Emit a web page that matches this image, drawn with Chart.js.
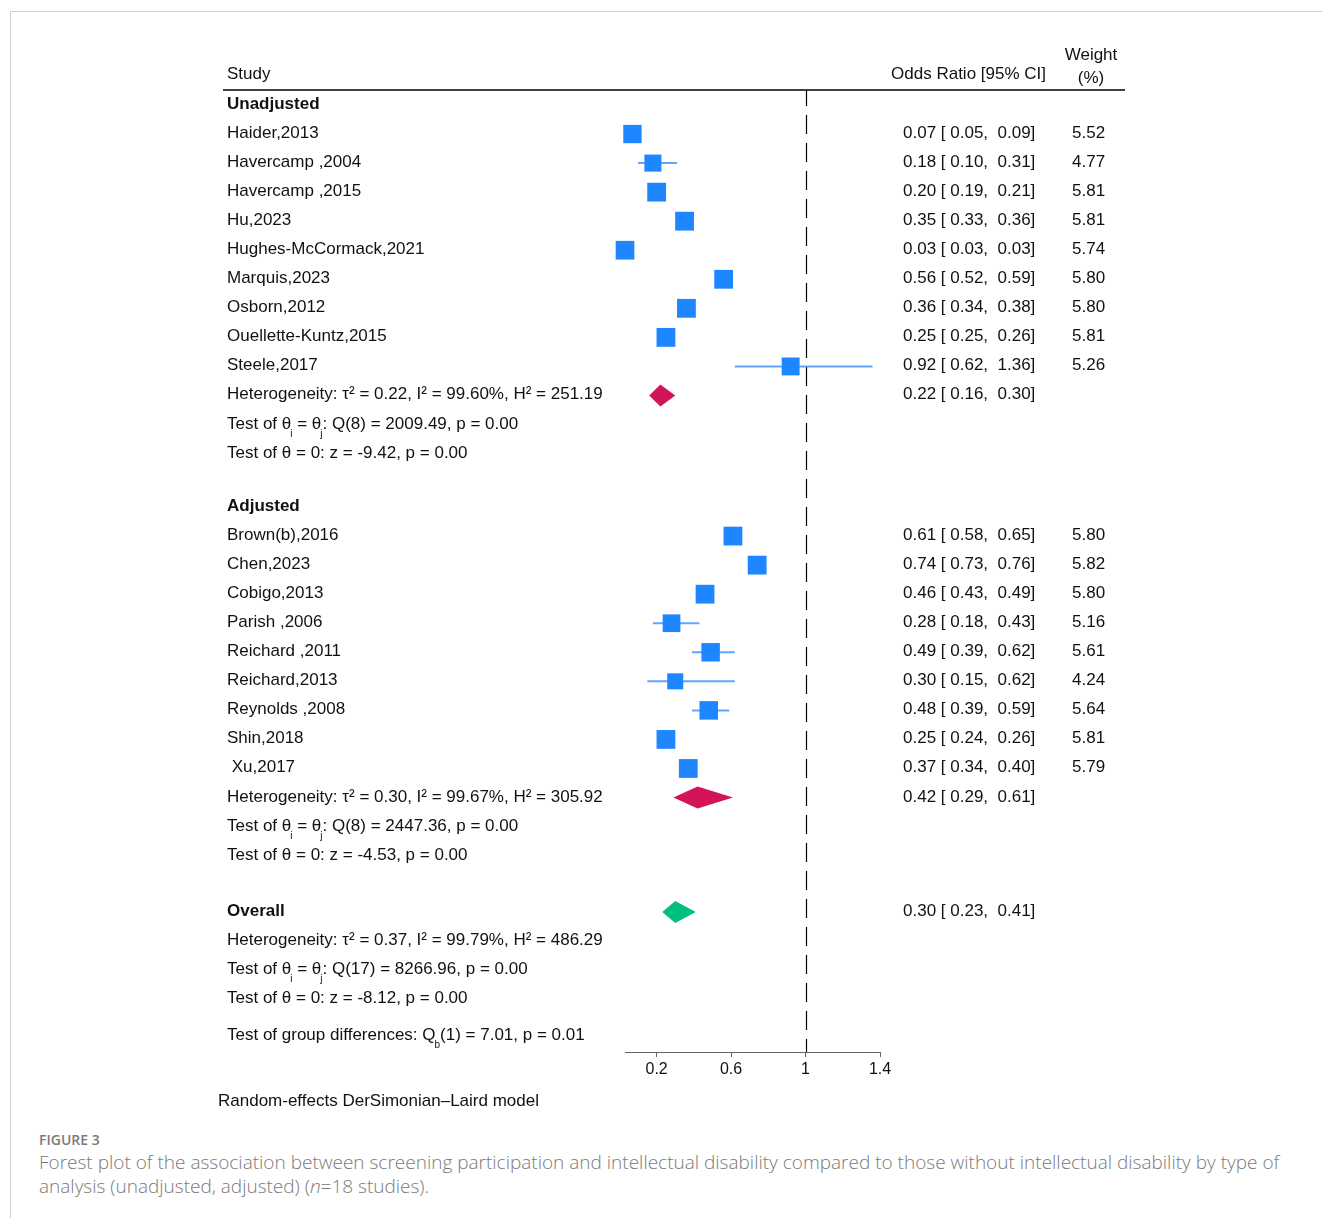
<!DOCTYPE html>
<html>
<head>
<meta charset="utf-8">
<script src="https://cdn.jsdelivr.net/npm/chart.js@4.4.1/dist/chart.umd.min.js"></script>
<style>
  html, body { margin: 0; padding: 0; background: #fff; }
  body { width: 1322px; height: 1218px; position: relative; overflow: hidden; }
  #frame { position: absolute; left: 10px; top: 11px; right: 0; bottom: 0;
           border-top: 1px solid #cfcfcf; border-left: 1px solid #cfcfcf; }
  #plot { position: absolute; left: 0; top: 0; }
  #figlabel { position: absolute; left: 39px; top: 1130px; font: 600 14px "Open Sans", sans-serif;
              color: #7a7a7a; letter-spacing: 0; }
  #caption { position: absolute; left: 39px; top: 1150px; width: 1255px; font: 300 19px/24px "Open Sans", sans-serif;
             color: #7a7a7a; }
</style>
</head>
<body>
<div id="frame"></div>
<canvas id="plot" width="1322" height="1120"></canvas>
<div id="figlabel">FIGURE 3</div>
<div id="caption">Forest plot of the association between screening participation and intellectual disability compared to those without intellectual disability by type of analysis (unadjusted, adjusted) (<i>n</i>=18 studies).</div>
<script>
// ---- Study-level data: odds ratios, 95% CI bounds, random-effects weights (%) ----
const unadjStudies = ['Haider,2013', 'Havercamp ,2004', 'Havercamp ,2015', 'Hu,2023', 'Hughes-McCormack,2021',
                      'Marquis,2023', 'Osborn,2012', 'Ouellette-Kuntz,2015', 'Steele,2017'];
const unadjOR     = [0.07, 0.18, 0.20, 0.35, 0.03, 0.56, 0.36, 0.25, 0.92];
const unadjLo     = [0.05, 0.10, 0.19, 0.33, 0.03, 0.52, 0.34, 0.25, 0.62];
const unadjHi     = [0.09, 0.31, 0.21, 0.36, 0.03, 0.59, 0.38, 0.26, 1.36];
const unadjWeight = [5.52, 4.77, 5.81, 5.81, 5.74, 5.80, 5.80, 5.81, 5.26];

const adjStudies = ['Brown(b),2016', 'Chen,2023', 'Cobigo,2013', 'Parish ,2006', 'Reichard ,2011',
                    'Reichard,2013', 'Reynolds ,2008', 'Shin,2018', ' Xu,2017'];
const adjOR     = [0.61, 0.74, 0.46, 0.28, 0.49, 0.30, 0.48, 0.25, 0.37];
const adjLo     = [0.58, 0.73, 0.43, 0.18, 0.39, 0.15, 0.39, 0.24, 0.34];
const adjHi     = [0.65, 0.76, 0.49, 0.43, 0.62, 0.62, 0.59, 0.26, 0.40];
const adjWeight = [5.80, 5.82, 5.80, 5.16, 5.61, 4.24, 5.64, 5.81, 5.79];

// ---- Pooled estimates: Unadjusted, Adjusted, Overall ----
const groupNames = ['Unadjusted', 'Adjusted', 'Overall'];
const pooledOR   = [0.22, 0.42, 0.30];
const pooledLo   = [0.16, 0.29, 0.23];
const pooledHi   = [0.30, 0.61, 0.41];

// ---- Heterogeneity statistics per group ----
const hetTau2 = ['0.22', '0.30', '0.37'];
const hetI2   = ['99.60%', '99.67%', '99.79%'];
const hetH2   = ['251.19', '305.92', '486.29'];
const qDf     = ['8', '8', '17'];
const qStat   = ['2009.49', '2447.36', '8266.96'];
const qP      = ['0.00', '0.00', '0.00'];
const zStat   = ['-9.42', '-4.53', '-8.12'];
const zP      = ['0.00', '0.00', '0.00'];
const groupDiffDf = '1', groupDiffQ = '7.01', groupDiffP = '0.01';

const xTicks = [0.2, 0.6, 1, 1.4];
const nullValue = 1;

// ---- Row layout (in row units, one unit per text line) ----
const rows = { studies: [], pooled: [], stats: [], headers: [] };
(function buildRows() {
  let r = 0;
  const groups = [[unadjStudies, unadjOR, unadjLo, unadjHi, unadjWeight],
                  [adjStudies, adjOR, adjLo, adjHi, adjWeight]];
  const gaps = [1.84, 1.94];
  groups.forEach((g, gi) => {
    rows.headers.push({ label: groupNames[gi], y: r });
    g[0].forEach((name, i) => {
      r += 1;
      rows.studies.push({ name, or: g[1][i], lo: g[2][i], hi: g[3][i], w: g[4][i], y: r });
    });
    r += 1;
    rows.pooled.push({ gi, y: r });
    rows.stats.push({ gi, y: [r, r + 1, r + 2] });
    r += 2 + gaps[gi];
  });
  rows.headers.push({ label: groupNames[2], y: r });
  rows.pooled.push({ gi: 2, y: r });
  rows.stats.push({ gi: 2, y: [r + 1, r + 2, r + 3] });
  rows.groupDiff = r + 3 + 1.27;
})();

const FONT = '17px "Liberation Sans", Arial, sans-serif';
const BOLD = 'bold 17px "Liberation Sans", Arial, sans-serif';
const SUB  = '10px "Liberation Sans", Arial, sans-serif';
const TXT  = '#111';
const fmt = v => v.toFixed(2);

// text with subscripts: parts = [[text, isSub], ...]
function drawRich(ctx, parts, x, y) {
  let cx = x;
  for (const [t, sub] of parts) {
    if (sub) {
      ctx.font = SUB;
      ctx.fillText(t, cx - 1, y + 8);
      cx += ctx.measureText(t).width - 1;
    } else {
      ctx.font = FONT;
      ctx.fillText(t, cx, y);
      cx += ctx.measureText(t).width;
    }
  }
}

const forestPlugin = {
  id: 'forest',
  beforeDatasetsDraw(chart) {
    const { ctx, scales: { x, y } } = chart;
    ctx.save();
    // null line
    const xn = Math.round(x.getPixelForValue(nullValue)) + 0.5;
    ctx.strokeStyle = '#000';
    ctx.lineWidth = 1.2;
    ctx.setLineDash([19, 9]);
    ctx.lineDashOffset = 3;
    ctx.beginPath();
    ctx.moveTo(xn, chart.chartArea.top);
    ctx.lineTo(xn, chart.chartArea.bottom);
    ctx.stroke();
    ctx.setLineDash([]);
    // confidence intervals
    ctx.strokeStyle = 'rgba(30,134,255,0.72)';
    ctx.lineWidth = 2;
    rows.studies.forEach(s => {
      const py = y.getPixelForValue(s.y);
      ctx.beginPath();
      ctx.moveTo(x.getPixelForValue(s.lo), py);
      ctx.lineTo(x.getPixelForValue(s.hi), py);
      ctx.stroke();
    });
    // pooled diamonds
    rows.pooled.forEach(p => {
      const py = y.getPixelForValue(p.y);
      ctx.fillStyle = p.gi === 2 ? '#00c07f' : '#d41459';
      ctx.beginPath();
      ctx.moveTo(x.getPixelForValue(pooledLo[p.gi]), py);
      ctx.lineTo(x.getPixelForValue(pooledOR[p.gi]), py - 11);
      ctx.lineTo(x.getPixelForValue(pooledHi[p.gi]), py);
      ctx.lineTo(x.getPixelForValue(pooledOR[p.gi]), py + 11);
      ctx.closePath();
      ctx.fill();
    });
    ctx.restore();
  },
  afterDraw(chart) {
    const { ctx, scales: { y } } = chart;
    const ty = v => y.getPixelForValue(v) + 4;  // text baseline for a row
    ctx.save();
    ctx.fillStyle = TXT;
    ctx.textBaseline = 'alphabetic';
    // header
    ctx.font = FONT;
    ctx.textAlign = 'left';
    ctx.fillText('Study', 227, 79);
    ctx.textAlign = 'right';
    ctx.fillText('Odds Ratio [95% CI]', 1046, 79);
    ctx.textAlign = 'center';
    ctx.fillText('Weight', 1091, 60);
    ctx.fillText('(%)', 1091, 83);
    ctx.strokeStyle = '#000';
    ctx.lineWidth = 1.5;
    ctx.beginPath();
    ctx.moveTo(223, 90); ctx.lineTo(1125, 90);
    ctx.stroke();
    // group headers
    ctx.textAlign = 'left';
    ctx.font = BOLD;
    rows.headers.forEach(h => ctx.fillText(h.label, 227, ty(h.y)));
    // study rows
    rows.studies.forEach(s => {
      ctx.font = FONT;
      ctx.textAlign = 'left';
      ctx.fillText(s.name, 227, ty(s.y));
      ctx.fillText(`${fmt(s.or)} [ ${fmt(s.lo)},  ${fmt(s.hi)}]`, 903, ty(s.y));
      ctx.fillText(fmt(s.w), 1072, ty(s.y));
    });
    // pooled estimates and statistics
    rows.pooled.forEach(p => {
      ctx.font = FONT;
      ctx.textAlign = 'left';
      const g = p.gi;
      ctx.fillText(`${fmt(pooledOR[g])} [ ${fmt(pooledLo[g])},  ${fmt(pooledHi[g])}]`, 903, ty(p.y));
    });
    rows.stats.forEach(s => {
      const g = s.gi;
      ctx.font = FONT;
      ctx.textAlign = 'left';
      ctx.fillText(`Heterogeneity: \u03c4\u00b2 = ${hetTau2[g]}, I\u00b2 = ${hetI2[g]}, H\u00b2 = ${hetH2[g]}`, 227, ty(s.y[0]));
      drawRich(ctx, [['Test of \u03b8', false], ['i', true], [' = \u03b8', false], ['j', true],
                     [`: Q(${qDf[g]}) = ${qStat[g]}, p = ${qP[g]}`, false]], 227, ty(s.y[1]));
      ctx.font = FONT;
      ctx.fillText(`Test of \u03b8 = 0: z = ${zStat[g]}, p = ${zP[g]}`, 227, ty(s.y[2]));
    });
    drawRich(ctx, [['Test of group differences: Q', false], ['b', true],
                   [`(${groupDiffDf}) = ${groupDiffQ}, p = ${groupDiffP}`, false]], 227, ty(rows.groupDiff));
    ctx.font = FONT;
    ctx.fillText('Random-effects DerSimonian\u2013Laird model', 218, 1106);
    ctx.restore();
  }
};

const allLo = unadjLo.concat(adjLo, pooledLo);
const studyPoints = rows.studies.map(s => ({ x: s.or, y: s.y }));
const studyRadius = rows.studies.map(s => 7.8 * Math.sqrt(s.w) / Math.SQRT2);

new Chart(document.getElementById('plot'), {
  type: 'scatter',
  data: {
    datasets: [{
      data: studyPoints,
      pointStyle: 'rect',
      pointRadius: studyRadius,
      pointHoverRadius: studyRadius,
      backgroundColor: '#1e86ff',
      borderWidth: 0,
      clip: false
    }]
  },
  options: {
    responsive: false,
    animation: false,
    devicePixelRatio: 1,
    layout: { padding: { left: 625, right: 442, top: 90, bottom: 28 } },
    plugins: { legend: { display: false }, tooltip: { enabled: false } },
    scales: {
      x: {
        type: 'linear',
        min: Math.min(...allLo),
        max: Math.max(...xTicks),
        afterBuildTicks: sc => { sc.ticks = xTicks.map(v => ({ value: v })); },
        afterFit: sc => { sc.height = 40; },
        grid: { display: true, drawOnChartArea: false, tickLength: 5, color: '#666', lineWidth: 1 },
        border: { display: true, color: '#666', width: 1 },
        ticks: { color: '#111', padding: 3, maxRotation: 0, autoSkip: false,
                 font: { family: '"Liberation Sans", Arial, sans-serif', size: 16 },
                 callback: v => String(v) }
      },
      y: {
        type: 'linear',
        display: false,
        reverse: true,
        min: -0.516,
        max: 32.6
      }
    }
  },
  plugins: [forestPlugin]
});
</script>
</body>
</html>
